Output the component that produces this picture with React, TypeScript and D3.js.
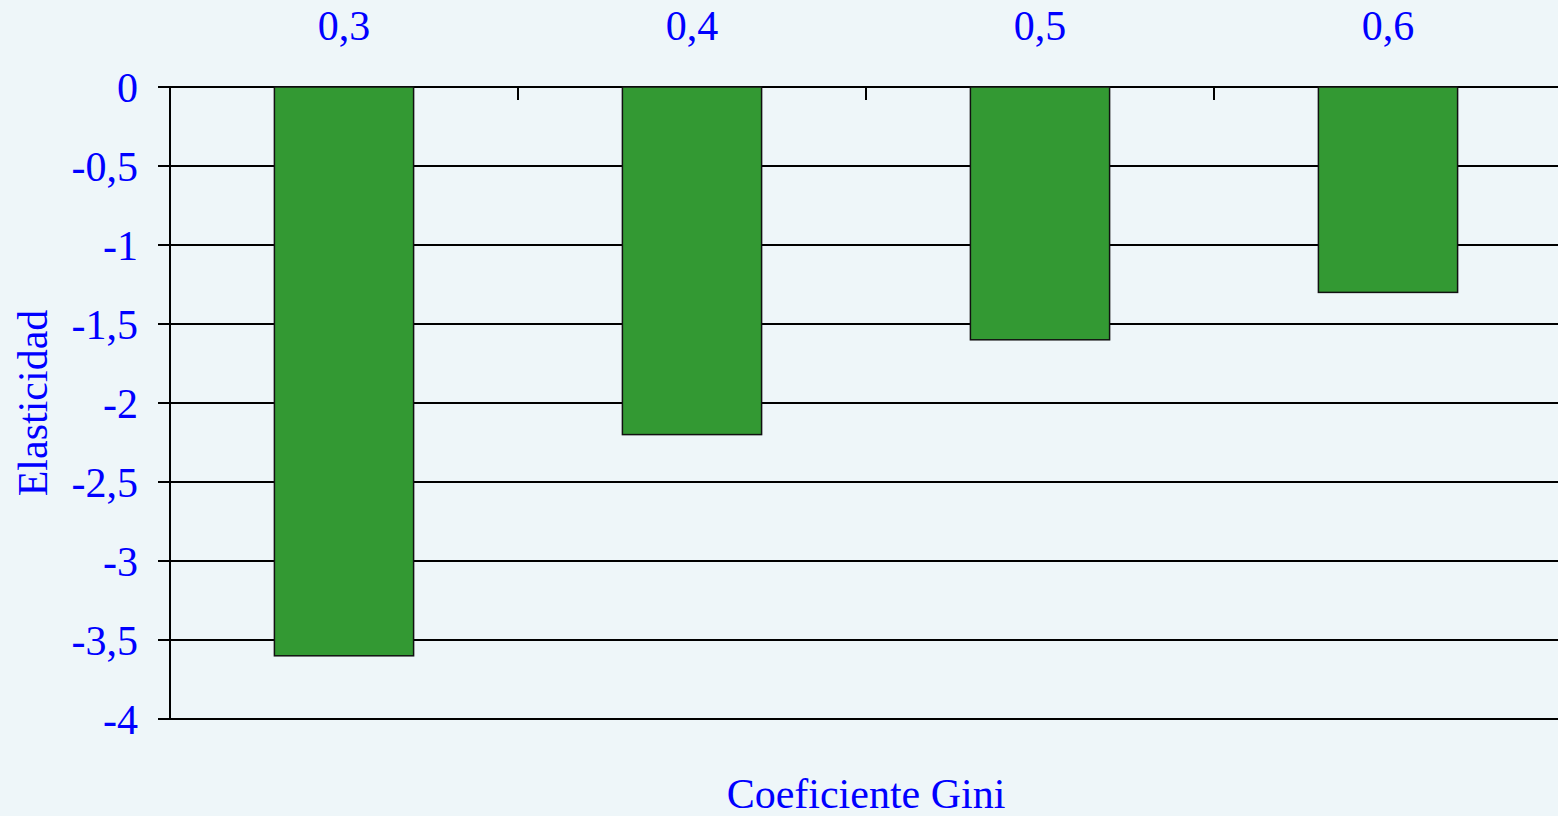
import React from "react";
import * as d3 from "d3";

const categories = ["0,3", "0,4", "0,5", "0,6"];
const values = [-3.6, -2.2, -1.6, -1.3];
const yTicks = [0, -0.5, -1, -1.5, -2, -2.5, -3, -3.5, -4];
const yTickLabels = ["0", "-0,5", "-1", "-1,5", "-2", "-2,5", "-3", "-3,5", "-4"];
const xTitle = "Coeficiente Gini";
const yTitle = "Elasticidad";

const W = 1558;
const H = 816;
const left = 170;
const right = 1562;
const top = 87;
const bottom = 719;
const FONT = "'Liberation Serif', 'Times New Roman', serif";
const BLUE = "#0000ff";

export default function App() {
  const x = d3.scaleBand<string>().domain(categories).range([left, right]).padding(0);
  const y = d3.scaleLinear().domain([0, -4]).range([top, bottom]);
  const bw = x.bandwidth() * 0.4;
  const fs = 42;

  return (
    <svg
      width={W}
      height={H}
      style={{ position: "absolute", left: 0, top: 0, display: "block" }}
    >
      <rect x={0} y={0} width={W} height={H} fill="#eef6f9" />
      {yTicks.map((t, i) => (
        <line
          key={"g" + i}
          x1={158}
          x2={W}
          y1={y(t)}
          y2={y(t)}
          stroke="#000"
          strokeWidth={2}
        />
      ))}
      <line x1={left} x2={left} y1={top} y2={bottom} stroke="#000" strokeWidth={2} />
      {categories.map((c, i) => (
        <line
          key={"xt" + i}
          x1={x(c)!}
          x2={x(c)!}
          y1={top}
          y2={top + 13}
          stroke="#000"
          strokeWidth={2}
        />
      ))}
      {categories.map((c, i) => {
        const cx = x(c)! + x.bandwidth() / 2;
        return (
          <rect
            key={"b" + i}
            x={cx - bw / 2}
            y={y(0)}
            width={bw}
            height={y(values[i]) - y(0)}
            fill="#339933"
            stroke="#111"
            strokeWidth={1.5}
          />
        );
      })}
      {yTicks.map((t, i) => (
        <text
          key={"yl" + i}
          x={138}
          y={y(t) + 15}
          textAnchor="end"
          fontFamily={FONT}
          fontSize={fs}
          fill={BLUE}
        >
          {yTickLabels[i]}
        </text>
      ))}
      {categories.map((c, i) => (
        <text
          key={"xl" + i}
          x={x(c)! + x.bandwidth() / 2}
          y={40}
          textAnchor="middle"
          fontFamily={FONT}
          fontSize={fs}
          fill={BLUE}
        >
          {c}
        </text>
      ))}
      <text
        x={(left + right) / 2}
        y={808}
        textAnchor="middle"
        fontFamily={FONT}
        fontSize={fs}
        fill={BLUE}
      >
        {xTitle}
      </text>
      <text
        transform={`translate(47, ${(top + bottom) / 2}) rotate(-90)`}
        textAnchor="middle"
        fontFamily={FONT}
        fontSize={fs}
        fill={BLUE}
      >
        {yTitle}
      </text>
    </svg>
  );
}
